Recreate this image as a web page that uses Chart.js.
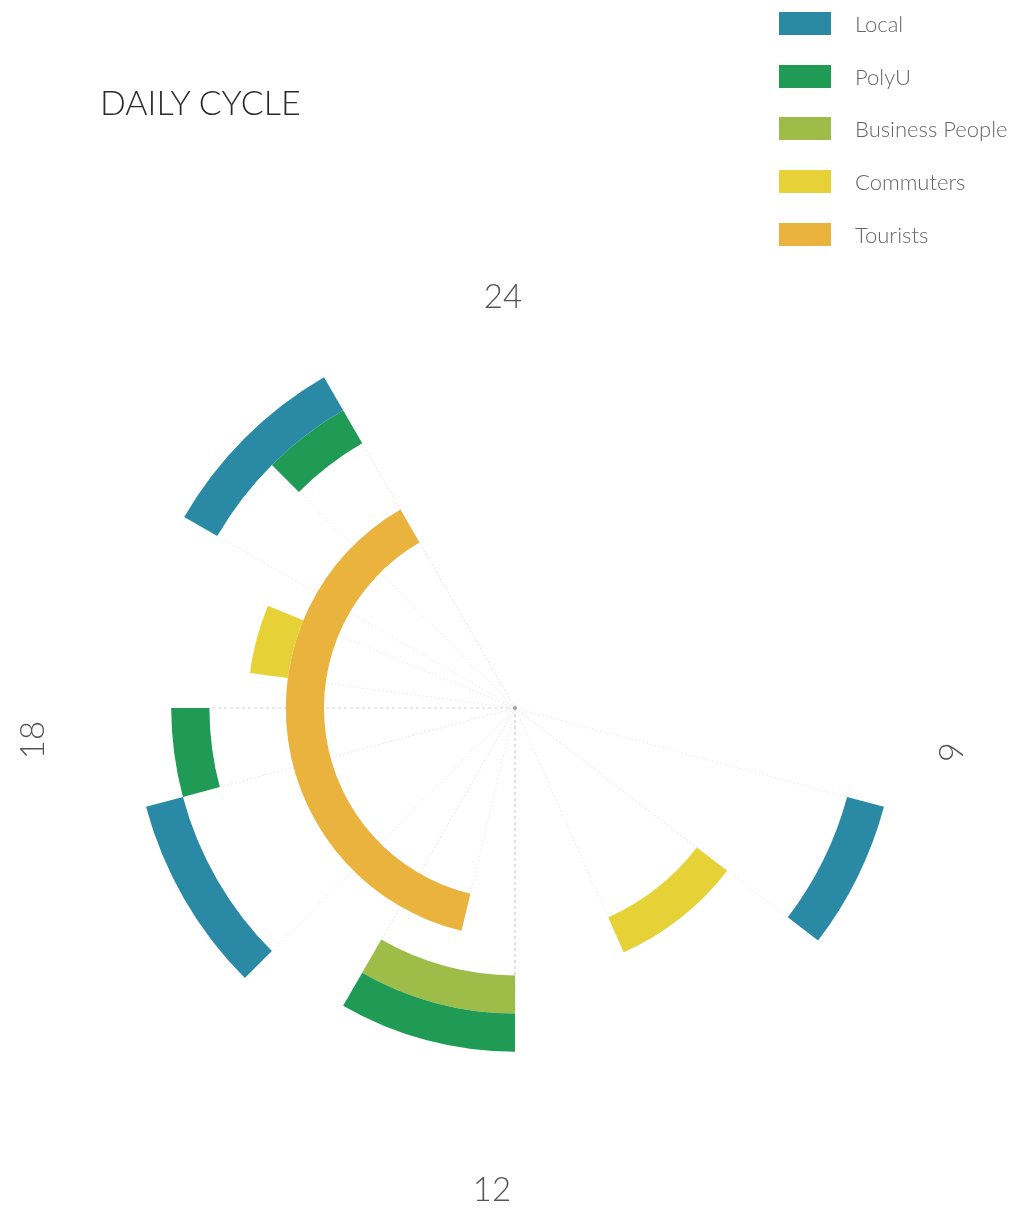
<!DOCTYPE html>
<html>
<head>
<meta charset="utf-8">
<script src="https://cdn.jsdelivr.net/npm/chart.js@4.4.1/dist/chart.umd.min.js"></script>
<style>
  html, body { margin: 0; padding: 0; background: #ffffff; }
  #wrap { position: relative; width: 1027px; height: 1209px; overflow: hidden; }
  #chart { position: absolute; left: 0; top: 0; }
  #title { position: absolute; left: 100px; top: 82px; font-family: Lato, "Open Sans", sans-serif; font-weight: 300; font-size: 34px; line-height: 40px; color: #2a2a2a; white-space: nowrap; }
  #legend { position: absolute; left: 779px; top: 0; font-family: Lato, "Open Sans", sans-serif; }
  .item { position: absolute; left: 0; height: 23px; display: flex; align-items: center; white-space: nowrap; }
  .box { width: 52px; height: 23px; flex: none; }
  .lab { margin-left: 24px; font-size: 22px; font-weight: 300; color: #666666; }
</style>
</head>
<body>
<div id="wrap">
  <canvas id="chart" width="1027" height="1209"></canvas>
  <div id="title">DAILY CYCLE</div>
  <div id="legend"></div>
</div>
<script>
// ---- data (hours of the day, 0-24, clockwise from the top) ----
const seriesNames = ['Local', 'PolyU', 'Business People', 'Commuters', 'Tourists'];
const localHours = [[7, 8.5], [15, 17], [20, 22]];
const polyuHours = [[12, 14], [17, 18], [21, 22]];
const businessHours = [[12, 14]];
const commuterHours = [[8.5, 10.4], [18.5, 19.5]];
const touristHours = [[12.9, 22]];
const hourTicks = [24, 6, 12, 18];
const dayLength = 24;

// ---- styles ----
const seriesColors = ['#2a8aa6', '#1f9b56', '#9dbd48', '#e6d236', '#e9b33d'];
const tickPlacement = [
  { r: 411, t: -12, rot: 0 },
  { r: 435, t: 44, rot: 90 },
  { r: 482, t: 23, rot: 0 },
  { r: 482, t: -32, rot: -90 }
];

const allSeries = [localHours, polyuHours, businessHours, commuterHours, touristHours];

function toSegments(intervals) {
  const vals = [], on = [];
  let cur = 0;
  for (const [s, e] of intervals) {
    if (s > cur) { vals.push(s - cur); on.push(false); }
    vals.push(e - s); on.push(true);
    cur = e;
  }
  if (cur < dayLength) { vals.push(dayLength - cur); on.push(false); }
  return { vals, on };
}

const datasets = allSeries.map((iv, k) => {
  const seg = toSegments(iv);
  return {
    label: seriesNames[k],
    data: seg.vals,
    active: seg.on,
    backgroundColor: seg.on.map(o => o ? seriesColors[k] : 'rgba(0,0,0,0)'),
    borderWidth: 0,
    hoverOffset: 0
  };
});

// legend (HTML)
const legendEl = document.getElementById('legend');
seriesNames.forEach((n, i) => {
  const it = document.createElement('div');
  it.className = 'item';
  it.style.top = (12 + i * 52.7) + 'px';
  const b = document.createElement('div');
  b.className = 'box';
  b.style.background = seriesColors[i];
  const l = document.createElement('span');
  l.className = 'lab';
  l.textContent = n;
  it.appendChild(b); it.appendChild(l);
  legendEl.appendChild(it);
});

const spokePlugin = {
  id: 'spokes',
  beforeDatasetsDraw(chart) {
    const ctx = chart.ctx;
    ctx.save();
    ctx.lineWidth = 1;
    chart.data.datasets.forEach((ds, di) => {
      const meta = chart.getDatasetMeta(di);
      meta.data.forEach((arc, i) => {
        if (!ds.active[i]) return;
        const p = arc.getProps(['x', 'y', 'startAngle', 'endAngle', 'innerRadius'], true);
        [p.startAngle, p.endAngle].forEach(a => {
          const onAxis = Math.abs(Math.sin(2 * a)) < 1e-6;
          ctx.strokeStyle = onAxis ? '#d6d6d6' : '#ececec';
          ctx.setLineDash(onAxis ? [3, 3] : [2, 2]);
          ctx.beginPath();
          ctx.moveTo(p.x, p.y);
          ctx.lineTo(p.x + Math.cos(a) * p.innerRadius, p.y + Math.sin(a) * p.innerRadius);
          ctx.stroke();
        });
      });
    });
    const a0 = chart.getDatasetMeta(0).data[0];
    ctx.setLineDash([]);
    ctx.fillStyle = '#a0a0a0';
    ctx.beginPath();
    ctx.arc(a0.x, a0.y, 2, 0, Math.PI * 2);
    ctx.fill();
    ctx.restore();
  }
};

const hourLabelPlugin = {
  id: 'hourLabels',
  afterDraw(chart) {
    const ctx = chart.ctx;
    const a0 = chart.getDatasetMeta(0).data[0];
    ctx.save();
    ctx.font = '300 33px Lato, "Open Sans", sans-serif';
    ctx.fillStyle = '#555555';
    ctx.textAlign = 'center';
    ctx.textBaseline = 'middle';
    hourTicks.forEach((h, i) => {
      const pl = tickPlacement[i];
      const ang = (h % dayLength) / dayLength * Math.PI * 2 - Math.PI / 2;
      const tx = -Math.sin(ang), ty = Math.cos(ang);
      const x = a0.x + Math.cos(ang) * pl.r + tx * pl.t;
      const y = a0.y + Math.sin(ang) * pl.r + ty * pl.t;
      ctx.save();
      ctx.translate(x, y);
      ctx.rotate(pl.rot * Math.PI / 180);
      ctx.fillText(String(h), 0, 0);
      ctx.restore();
    });
    ctx.restore();
  }
};

new Chart(document.getElementById('chart'), {
  type: 'doughnut',
  data: { labels: [], datasets },
  options: {
    responsive: false,
    animation: false,
    devicePixelRatio: 1,
    cutout: '50%',
    rotation: 0,
    circumference: 360,
    layout: { padding: { left: 133, right: 130, top: 326, bottom: 119 } },
    plugins: { legend: { display: false }, tooltip: { enabled: false } },
    events: []
  },
  plugins: [spokePlugin, hourLabelPlugin]
});
</script>
</body>
</html>
